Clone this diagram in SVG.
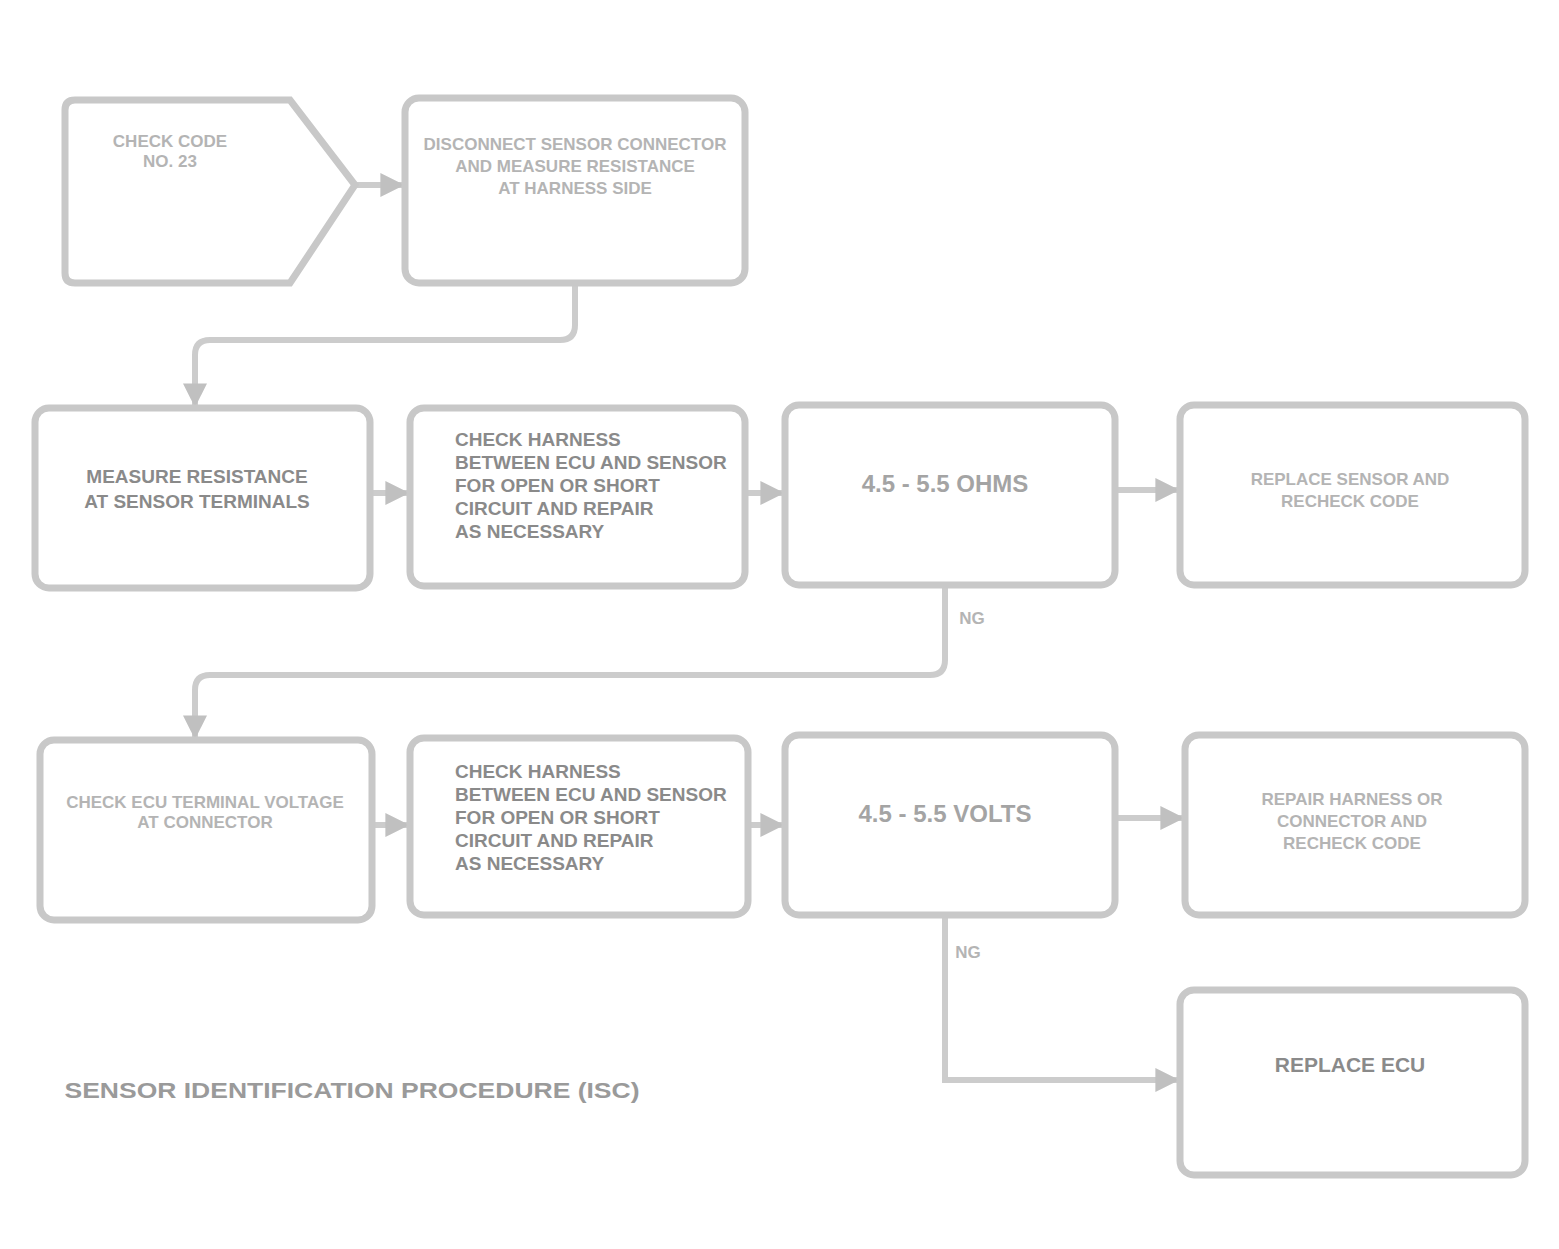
<svg xmlns="http://www.w3.org/2000/svg" width="1559" height="1249" viewBox="0 0 1559 1249">
<style>
.box{fill:#fff;stroke:#c8c8c8;stroke-width:7}
.con{fill:none;stroke:#cccccc;stroke-width:6}
.t{font-family:"Liberation Sans",Arial,sans-serif;font-weight:bold;text-anchor:middle}
.dk{fill:#8a8a8a;font-size:19px}
.lt{fill:#b4b4b4;font-size:17px}
.md{fill:#a4a4a4;font-size:24px}
</style>
<defs>
<marker id="ah" viewBox="0 0 10 10" refX="9" refY="5" markerWidth="4" markerHeight="4" orient="auto-start-reverse">
<path d="M0,0 L10,5 L0,10 z" fill="#c0c0c0"/>
</marker>
</defs>
<rect width="1559" height="1249" fill="#fff"/>
<g id="connectors">
<path class="con" d="M355,185 H402" marker-end="url(#ah)"/>
<path class="con" d="M575,283 V325 Q575,340 560,340 H210 Q195,340 195,355 V405" marker-end="url(#ah)"/>
<path class="con" d="M370,493 H407" marker-end="url(#ah)"/>
<path class="con" d="M745,493 H782" marker-end="url(#ah)"/>
<path class="con" d="M1115,490 H1177" marker-end="url(#ah)"/>
<path class="con" d="M945,585 V660 Q945,675 930,675 H210 Q195,675 195,690 V737" marker-end="url(#ah)"/>
<path class="con" d="M372,825 H407" marker-end="url(#ah)"/>
<path class="con" d="M748,825 H782" marker-end="url(#ah)"/>
<path class="con" d="M1115,818 H1182" marker-end="url(#ah)"/>
<path class="con" d="M945,915 V1080 H1177" marker-end="url(#ah)"/>
<text class="t lt" x="972" y="624">NG</text>
<text class="t lt" x="968" y="958">NG</text>
</g>
<g id="n1">
<path class="box" d="M75,100 H290 L355,185 L290,283 H75 Q65,283 65,273 V110 Q65,100 75,100 Z"/>
<text class="t lt" x="170" y="147">CHECK CODE</text>
<text class="t lt" x="170" y="167">NO. 23</text>
</g>
<g id="n2">
<rect class="box" x="405" y="98" width="340" height="185" rx="14"/>
<text class="t lt" x="575" y="150">DISCONNECT SENSOR CONNECTOR</text>
<text class="t lt" x="575" y="172">AND MEASURE RESISTANCE</text>
<text class="t lt" x="575" y="194">AT HARNESS SIDE</text>
</g>
<g id="n3">
<rect class="box" x="35" y="408" width="335" height="180" rx="14"/>
<text class="t dk" x="197" y="483">MEASURE RESISTANCE</text>
<text class="t dk" x="197" y="508">AT SENSOR TERMINALS</text>
</g>
<g id="n4">
<rect class="box" x="410" y="408" width="335" height="178" rx="14"/>
<text class="t dk" x="455" y="446" style="text-anchor:start">CHECK HARNESS</text>
<text class="t dk" x="455" y="469" style="text-anchor:start">BETWEEN ECU AND SENSOR</text>
<text class="t dk" x="455" y="492" style="text-anchor:start">FOR OPEN OR SHORT</text>
<text class="t dk" x="455" y="515" style="text-anchor:start">CIRCUIT AND REPAIR</text>
<text class="t dk" x="455" y="538" style="text-anchor:start">AS NECESSARY</text>
</g>
<g id="n5">
<rect class="box" x="785" y="405" width="330" height="180" rx="14"/>
<text class="t md" x="945" y="492">4.5 - 5.5 OHMS</text>
</g>
<g id="n6">
<rect class="box" x="1180" y="405" width="345" height="180" rx="14"/>
<text class="t lt" x="1350" y="485">REPLACE SENSOR AND</text>
<text class="t lt" x="1350" y="507">RECHECK CODE</text>
</g>
<g id="n7">
<rect class="box" x="40" y="740" width="332" height="180" rx="14"/>
<text class="t lt" x="205" y="808">CHECK ECU TERMINAL VOLTAGE</text>
<text class="t lt" x="205" y="828">AT CONNECTOR</text>
</g>
<g id="n8">
<rect class="box" x="410" y="738" width="338" height="177" rx="14"/>
<text class="t dk" x="455" y="778" style="text-anchor:start">CHECK HARNESS</text>
<text class="t dk" x="455" y="801" style="text-anchor:start">BETWEEN ECU AND SENSOR</text>
<text class="t dk" x="455" y="824" style="text-anchor:start">FOR OPEN OR SHORT</text>
<text class="t dk" x="455" y="847" style="text-anchor:start">CIRCUIT AND REPAIR</text>
<text class="t dk" x="455" y="870" style="text-anchor:start">AS NECESSARY</text>
</g>
<g id="n9">
<rect class="box" x="785" y="735" width="330" height="180" rx="14"/>
<text class="t md" x="945" y="822">4.5 - 5.5 VOLTS</text>
</g>
<g id="n10">
<rect class="box" x="1185" y="735" width="340" height="180" rx="14"/>
<text class="t lt" x="1352" y="805">REPAIR HARNESS OR</text>
<text class="t lt" x="1352" y="827">CONNECTOR AND</text>
<text class="t lt" x="1352" y="849">RECHECK CODE</text>
</g>
<g id="n11">
<rect class="box" x="1180" y="990" width="345" height="185" rx="14"/>
<text class="t dk" x="1350" y="1072" style="font-size:21px">REPLACE ECU</text>
</g>
<text class="t" x="352" y="1098" style="fill:#9a9a9a;font-size:22px" textLength="575" lengthAdjust="spacingAndGlyphs">SENSOR IDENTIFICATION PROCEDURE (ISC)</text>
</svg>
